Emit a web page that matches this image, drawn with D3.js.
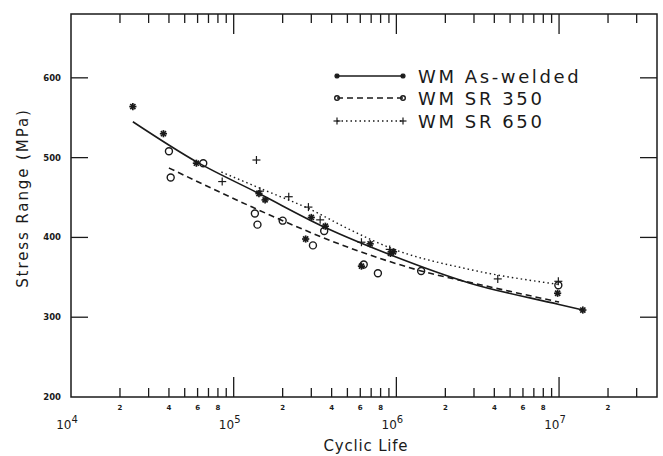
<!DOCTYPE html>
<html><head><meta charset="utf-8">
<script src="https://cdn.jsdelivr.net/npm/d3@7"></script>
<style>body{margin:0;background:#fff}</style>
</head><body><svg id="c" width="663" height="456"></svg>
<script>
// ---- data ----
const xDomain = [1e4, 4e7];
const yDomain = [200, 680];
const yTickValues = [300, 400, 500, 600];
const yTickLabels = [200, 300, 400, 500, 600];
const decades = [1e4, 1e5, 1e6, 1e7];
const decadeExp = ["4", "5", "6", "7"];
const minorMultipliers = [2, 3, 4, 5, 6, 7, 8, 9];
const minorLabelMultipliers = [2, 4, 6, 8];

const seriesNames = ["WM As-welded", "WM SR 350", "WM SR 650"];

const asWeldedPts = [[2.4e4,564],[3.7e4,530],[5.9e4,493],[1.43e5,455],[1.56e5,447],[2.77e5,398],[3.0e5,425],[3.66e5,414],[6.1e5,364],[6.9e5,392],[9.2e5,380],[9.6e5,382],[9.8e6,330],[1.4e7,309]];
const sr350Pts = [[4.0e4,508],[4.1e4,475],[6.5e4,493],[1.35e5,430],[1.4e5,416],[2.0e5,421],[3.07e5,390],[3.6e5,408],[6.3e5,366],[7.7e5,355],[1.42e6,358],[9.9e6,340]];
const sr650Pts = [[8.5e4,470],[1.38e5,497],[1.45e5,458],[2.18e5,451],[2.88e5,438],[3.4e5,422],[6.1e5,394],[9.1e5,385],[4.2e6,348],[9.9e6,345]];

const asWeldedFit = [[2.4e4,545],[6e4,494],[1.43e5,455],[3.6e5,413],[9.5e5,377],[2.8e6,343],[1e7,316],[1.4e7,309]];
const sr350Fit = [[4e4,487],[1.3e5,438],[2e5,421],[5.15e5,387],[1.42e6,358],[3.4e6,340],[1e7,319]];
const sr650Fit = [[8.4e4,482],[1.6e5,458],[2.9e5,436],[5.15e5,410],[9.4e5,386],[2.8e6,360],[1e7,341]];

// ---- layout ----
const L = 71, R = 657, T = 14, B = 397;
const ink = "#1a1a1a";
const svg = d3.select("#c");
const x = d3.scaleLog().domain(xDomain).range([L, R]);
const y = d3.scaleLinear().domain(yDomain).range([B, T]);

// frame
svg.append("rect").attr("x", L).attr("y", T).attr("width", R - L).attr("height", B - T)
  .attr("fill", "none").attr("stroke", ink).attr("stroke-width", 1.5);

// x ticks (bottom & top)
const minorVals = [];
decades.forEach(d => minorMultipliers.forEach(m => { if (m * d < xDomain[1]) minorVals.push(m * d); }));
const gt = svg.append("g").attr("stroke", ink).attr("stroke-width", 1.3);
minorVals.forEach(v => {
  gt.append("line").attr("x1", x(v)).attr("x2", x(v)).attr("y1", B).attr("y2", B - 9);
  gt.append("line").attr("x1", x(v)).attr("x2", x(v)).attr("y1", T).attr("y2", T + 9);
});
decades.slice(1).forEach(v => {
  gt.append("line").attr("x1", x(v)).attr("x2", x(v)).attr("y1", B).attr("y2", B - 20);
  gt.append("line").attr("x1", x(v)).attr("x2", x(v)).attr("y1", T).attr("y2", T + 20);
});
// y ticks (left & right)
yTickValues.forEach(v => {
  gt.append("line").attr("x1", L).attr("x2", L + 17).attr("y1", y(v)).attr("y2", y(v));
  gt.append("line").attr("x1", R).attr("x2", R - 17).attr("y1", y(v)).attr("y2", y(v));
});

const font = "'DejaVu Sans', Verdana, sans-serif";
// minor x labels
decades.forEach(d => minorLabelMultipliers.forEach(m => {
  if (m * d < xDomain[1]) {
    svg.append("text").attr("x", x(m * d)).attr("y", 410).attr("text-anchor", "middle")
      .attr("font-family", font).attr("font-size", 7).attr("font-weight", "bold").attr("fill", ink).text(m);
  }
}));
// decade labels
decades.forEach((d, i) => {
  const t = svg.append("text").attr("x", x(d) - 4).attr("y", 429).attr("text-anchor", "middle")
    .attr("font-family", font).attr("font-size", 12).attr("fill", ink);
  t.append("tspan").text("10");
  t.append("tspan").attr("dy", -6).attr("font-size", 10).text(decadeExp[i]);
});
// y labels
yTickLabels.forEach(v => {
  svg.append("text").attr("x", 61).attr("y", y(v) + 3).attr("text-anchor", "end")
    .attr("font-family", font).attr("font-size", 8.5).attr("font-weight", "bold").attr("fill", ink).text(v);
});
// axis titles
svg.append("text").attr("x", 366).attr("y", 451).attr("text-anchor", "middle")
  .attr("font-family", font).attr("font-size", 15).attr("letter-spacing", 0.8).attr("fill", ink).text("Cyclic Life");
svg.append("text").attr("transform", "translate(28,198) rotate(-90)").attr("text-anchor", "middle")
  .attr("font-family", font).attr("font-size", 15).attr("letter-spacing", 1.9).attr("fill", ink).text("Stress Range (MPa)");

// fitted curves
const line = d3.line().x(d => x(d[0])).y(d => y(d[1])).curve(d3.curveMonotoneX);
const styles = [
  {dash: null, w: 1.6},
  {dash: "6,4", w: 1.6},
  {dash: "1.5,3", w: 1.4}
];
[asWeldedFit, sr350Fit, sr650Fit].forEach((f, i) => {
  svg.append("path").attr("d", line(f)).attr("fill", "none").attr("stroke", ink)
    .attr("stroke-width", styles[i].w).attr("stroke-dasharray", styles[i].dash);
});

// markers
function star(g, cx, cy, r) {
  for (let k = 0; k < 4; k++) {
    const a = k * Math.PI / 4;
    g.append("line").attr("x1", cx - r * Math.cos(a)).attr("y1", cy - r * Math.sin(a))
      .attr("x2", cx + r * Math.cos(a)).attr("y2", cy + r * Math.sin(a))
      .attr("stroke", ink).attr("stroke-width", 1.7);
  }
}
function circ(g, cx, cy, r) {
  g.append("circle").attr("cx", cx).attr("cy", cy).attr("r", r).attr("fill", "none")
    .attr("stroke", ink).attr("stroke-width", 1.4);
}
function plus(g, cx, cy, r) {
  g.append("line").attr("x1", cx - r).attr("x2", cx + r).attr("y1", cy).attr("y2", cy).attr("stroke", ink).attr("stroke-width", 1.2);
  g.append("line").attr("x1", cx).attr("x2", cx).attr("y1", cy - r).attr("y2", cy + r).attr("stroke", ink).attr("stroke-width", 1.2);
}
const gm = svg.append("g");
asWeldedPts.forEach(p => star(gm, x(p[0]), y(p[1]), 3.6));
sr350Pts.forEach(p => circ(gm, x(p[0]), y(p[1]), 3.5));
sr650Pts.forEach(p => plus(gm, x(p[0]), y(p[1]), 4));

// legend
const legY = [76, 98, 121];
const markFns = [(g, cx, cy) => star(g, cx, cy, 2.6), (g, cx, cy) => circ(g, cx, cy, 2.3), (g, cx, cy) => plus(g, cx, cy, 3.5)];
const gl = svg.append("g");
seriesNames.forEach((n, i) => {
  gl.append("line").attr("x1", 337).attr("x2", 403).attr("y1", legY[i]).attr("y2", legY[i])
    .attr("stroke", ink).attr("stroke-width", styles[i].w).attr("stroke-dasharray", styles[i].dash);
  markFns[i](gl, 337, legY[i]);
  markFns[i](gl, 403, legY[i]);
  gl.append("text").attr("x", 418).attr("y", legY[i] + 6.5).attr("font-family", font)
    .attr("font-size", 18).attr("letter-spacing", 2.6).attr("fill", ink).text(n);
});
</script>
</body></html>
